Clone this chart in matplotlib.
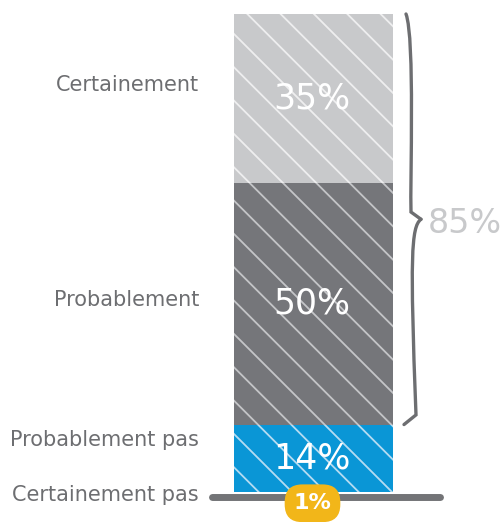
import matplotlib
matplotlib.use("Agg")
import matplotlib.pyplot as plt
from matplotlib.path import Path
from matplotlib.patches import PathPatch

# ---- data ----
categories = ["Certainement pas", "Probablement pas", "Probablement", "Certainement"]
values = [1, 14, 50, 35]
value_labels = ["1%", "14%", "50%", "35%"]
brace_label = "85%"

# ---- style ----
colors = ["#f2b619", "#0a96d6", "#75767a", "#c8c9cb"]
hatch_colors = ["#ffffff", "#b5dcf2", "#c4c5c8", "#eeeeef"]
text_grey = "#6d6e71"
light_grey = "#c8c9cb"
plt.rcParams["hatch.linewidth"] = 1.3
plt.rcParams["font.family"] = ["DejaVu Sans"]

W, H = 503, 522
fig = plt.figure(figsize=(W / 100, H / 100), dpi=100)
ax = fig.add_axes([0, 0, 1, 1])
ax.set_xlim(0, W)
px_per = 4.83
base_px = 497
ax.set_ylim((base_px - H) / px_per, base_px / px_per)
ax.axis("off")

bar_center = 313.5
bar_width = 159

# stacked bar (first value shown as badge on baseline)
bottom = values[0]
for i in range(1, len(values)):
    ax.bar(bar_center, values[i], width=bar_width, bottom=bottom, color=colors[i],
           edgecolor=hatch_colors[i], linewidth=0, hatch="\\", zorder=2)
    bottom += values[i]

# baseline
ax.plot([212, 440], [0, 0], color="#737477", lw=5, solid_capstyle="round", zorder=3)

# values inside
cum = values[0]
for i in range(1, len(values)):
    mid = cum + values[i] / 2
    ax.text(bar_center - 2, mid, value_labels[i], color="white", fontsize=25,
            ha="center", va="center", zorder=5)
    cum += values[i]

# 1% badge
ax.text(bar_center - 1, -1.3, value_labels[0], color="white", fontsize=16, fontweight="bold",
        ha="center", va="center", zorder=6,
        bbox=dict(boxstyle="round,pad=0.4,rounding_size=0.8", fc=colors[0], ec="none"))

# category labels
label_y = [0.4, 11.8, 40.8, 85.3]
for cat, y in zip(categories, label_y):
    ax.text(199, y, cat, color=text_grey, fontsize=15, ha="right", va="center")

# brace over values[2] + values[3]
y0 = values[0] + values[1]
y1 = y0 + values[2] + values[3]
ym = (y0 + y1) / 2
xb = 410
xt = 421
verts2 = [(xb - 4, y1), (xb + 5, y1 - 5), (xb, ym + 8), (xb + 1, ym + 1.5), (xt, ym)]
verts3 = [(xt, ym), (xb + 1, ym - 1.5), (xb, ym - 8), (xb + 6, y0 + 2), (xb - 6, y0)]
for vv in (verts2, verts3):
    p = Path(vv, [Path.MOVETO, Path.CURVE4, Path.CURVE4, Path.CURVE4, Path.LINETO])
    ax.add_patch(PathPatch(p, fc="none", ec="#6d6e71", lw=2.4, capstyle="round"))

ax.text(465, ym - 0.8, brace_label, color=light_grey, fontsize=24, ha="center", va="center")

fig.savefig("out.png", dpi=100)
